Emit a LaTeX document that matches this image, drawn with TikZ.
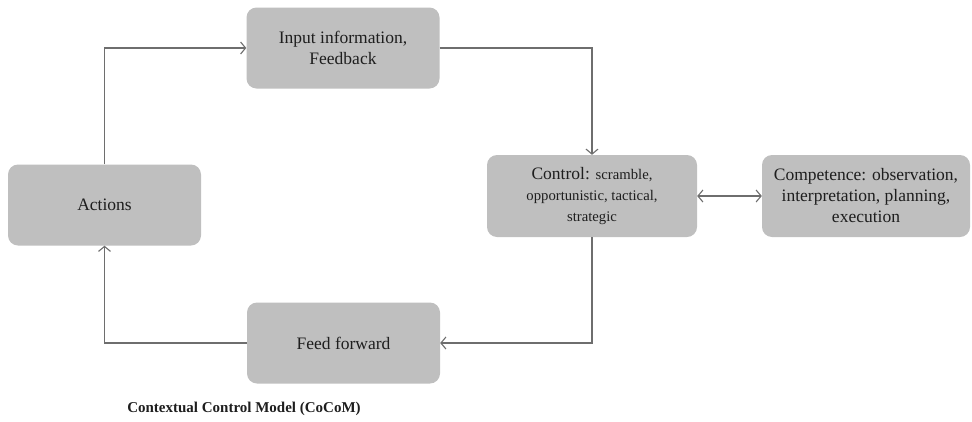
\documentclass[tikz,border=0pt]{standalone}
\usepackage{fontspec}
\setmainfont{Liberation Serif}
\usetikzlibrary{arrows.meta}
\definecolor{boxgray}{HTML}{BFBFBF}
\definecolor{linegray}{HTML}{6E6E6E}
\definecolor{txt}{HTML}{1E1E1E}
\tikzset{
  box/.style={draw=none, fill=boxgray, rounded corners=10pt, minimum width=193pt, minimum height=81pt, align=center, text=txt, font=\fontsize{17.5}{21}\selectfont, inner sep=0pt},
  conn/.style={draw=linegray, line width=1.1pt, -{Straight Barb[length=5pt,width=12pt]}},
  bconn/.style={draw=linegray, line width=1.1pt, {Straight Barb[length=5pt,width=12pt]}-{Straight Barb[length=5pt,width=12pt]}}
}
\begin{document}
\begin{tikzpicture}[x=1pt,y=-1pt]
\useasboundingbox (0,0) rectangle (972,421);
\node[box] (input) at (343,48) {Input information,\\Feedback};
\node[box, minimum width=210pt, minimum height=82pt] (control) at (592,196) {Control: {\fontsize{14.7}{19}\selectfont scramble,}\\{\fontsize{14.7}{18.5}\selectfont opportunistic, tactical,}\\{\fontsize{14.7}{18.5}\selectfont strategic}};
\node[box, minimum width=208pt, minimum height=82pt] (comp) at (866,196) {Competence: observation,\\interpretation, planning,\\execution};
\node[box] (actions) at (104.5,205) {Actions};
\node[box] (ff) at (343.5,343) {Feed forward};
\node[font=\bfseries\fontsize{15}{18}\selectfont, text=txt] (cap) at (244,409) {Contextual Control Model (CoCoM)};
\coordinate (c1) at (104.5,48);
\coordinate (c2) at (592,48);
\coordinate (c3) at (592,343);
\coordinate (c4) at (104.5,343);
\draw[conn] (actions.north) -- (c1) -- (input.west);
\draw[conn] (input.east) -- (c2) -- (control.north);
\draw[conn] (control.south) -- (c3) -- (ff.east);
\draw[conn] (ff.west) -- (c4) -- (actions.south);
\draw[bconn] (control.east) -- (comp.west);
\end{tikzpicture}
\end{document}
